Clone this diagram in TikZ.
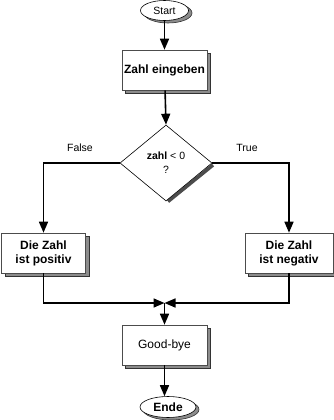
\documentclass[tikz,border=0pt]{standalone}
\usepackage{fontspec}
\setmainfont{Liberation Sans}
\usetikzlibrary{shapes.geometric,arrows.meta}
\begin{document}
\begin{tikzpicture}[x=1pt,y=-1pt,
  box/.style={draw=black!70,line width=0.6pt,fill=white,minimum width=85pt,minimum height=40pt,inner sep=0pt,align=center,font=\bfseries\fontsize{12}{14}\selectfont},
  boxshadow/.style={draw=black!80,line width=0.6pt,fill=black!45},
  term/.style={ellipse,draw=black,line width=0.6pt,fill=white,inner sep=0pt},
  conn/.style={line width=1.6pt,black},
  arr/.style={conn,-{Triangle[length=11pt,width=9pt]}},
  lbl/.style={font=\fontsize{10.5}{12}\selectfont}]
\useasboundingbox (0,0) rectangle (334,420);
% shadows
\fill[black!45,draw=black!80,line width=0.6pt] (168,13) ellipse (24 and 10);
\fill[boxshadow] (125.5,53.5) rectangle (210.5,93.5);
\fill[boxshadow] (5,236) rectangle (89,276);
\fill[boxshadow] (248,236) rectangle (336,276);
\fill[boxshadow] (125.5,328) rectangle (210.5,368);
\fill[black!45,draw=black!80,line width=0.6pt] (171,409.5) ellipse (28 and 10.5);
% nodes
\node[term,minimum width=48pt,minimum height=20pt,font=\fontsize{10.5}{12}\selectfont] (start) at (164.5,10.5) {Start};
\node[box] (zahl) at (164.5,70) {Zahl eingeben};
\draw[black!70,line width=3.5pt] (213,165) -- (168,201.5);
\node[diamond,draw=black,line width=0.6pt,fill=white,minimum width=92pt,minimum height=76pt,inner sep=0pt,align=center,font=\fontsize{10.5}{14}\selectfont] (dia) at (166,163) {\textbf{zahl} < 0\\?};
\node[box,minimum width=84pt] (pos) at (43.5,253) {Die Zahl\\ist positiv};
\node[box,minimum width=88pt] (neg) at (289,253) {Die Zahl\\ist negativ};
\node[box,font=\fontsize{12}{14}\selectfont] (bye) at (164.5,345) {Good-bye};
\node[term,minimum width=56pt,minimum height=21pt,font=\bfseries\fontsize{12}{14}\selectfont] (ende) at (168,407) {Ende};
\coordinate (join) at (164.5,303);
% labels
\node[lbl] (false) at (80,148) {False};
\node[lbl] (true) at (247,148) {True};
% connectors
\draw[arr] (start) -- (zahl);
\draw[arr] (zahl) -- (dia.north);
\draw[arr] (dia.west) -| (pos.north);
\draw[arr] (dia.east) -| (neg.north);
\draw[arr] (pos.south) |- (join);
\draw[arr] (neg.south) |- (join);
\draw[arr] (join) -- (bye.north);
\draw[arr] (bye.south) -- (bye.south |- ende.north);
\end{tikzpicture}
\end{document}
